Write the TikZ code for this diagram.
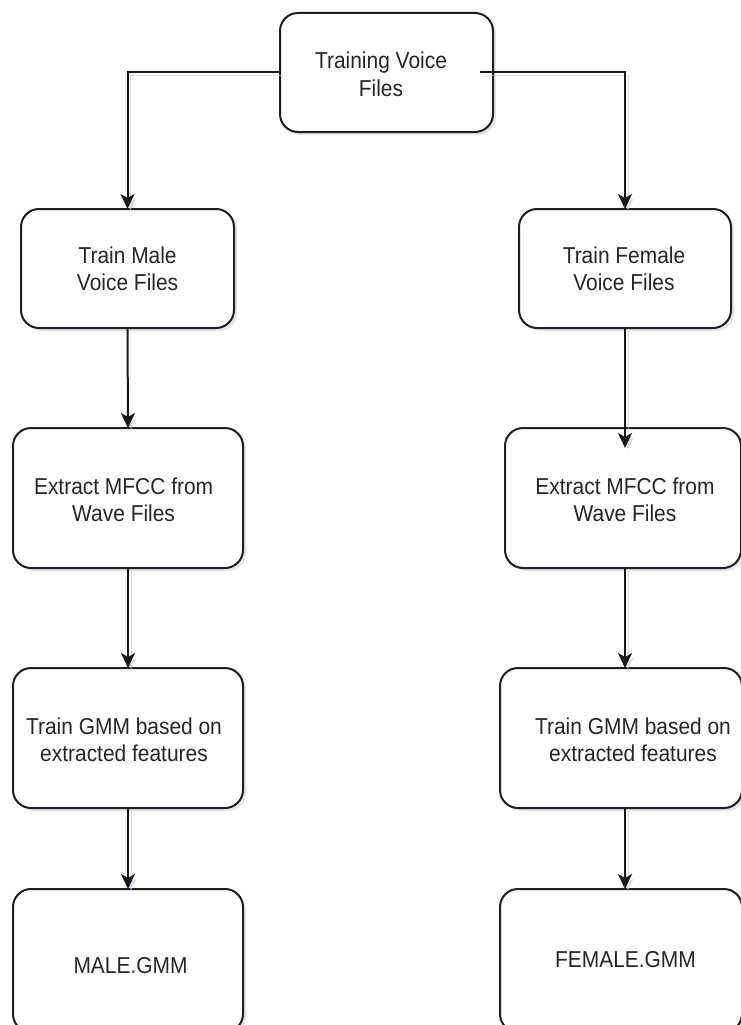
\documentclass[tikz,border=0pt]{standalone}
\usepackage{fontspec}
\setmainfont{Liberation Sans}[FakeStretch=0.91]
\usetikzlibrary{arrows.meta,shadows}
\definecolor{shadowcol}{RGB}{200,202,222}
\begin{document}
\begin{tikzpicture}[x=1pt,y=-1pt,
  box/.style={draw=black!88, line width=2pt, rounded corners=18pt, fill=white,
    inner sep=0pt, outer sep=0pt,
    drop shadow={shadow xshift=3pt, shadow yshift=-3pt, opacity=0.5, fill=shadowcol}},
  lbl/.style={font=\fontsize{23}{27.5}\selectfont, align=center, inner sep=0pt, text=black!85},
  arr/.style={line width=2pt, draw=black!90,
    -{Stealth[length=15pt,width=14pt,inset=4pt]},
    preaction={draw=shadowcol, opacity=0.6, transform canvas={shift={(3pt,-3pt)}}}}]
\useasboundingbox (0,0) rectangle (741,1025);
\clip (0,0) rectangle (741,1025);
% boxes
\node[box, minimum width=213pt, minimum height=119pt] (top) at (386.5,72.5) {};
\node[box, minimum width=213pt, minimum height=119pt] (L1) at (127.5,268.5) {};
\node[box, minimum width=212pt, minimum height=119pt] (R1) at (625,268.5) {};
\node[box, minimum width=230pt, minimum height=140pt] (L2) at (128,498) {};
\node[box, minimum width=236pt, minimum height=140pt] (R2) at (623,498) {};
\node[box, minimum width=230pt, minimum height=140pt] (L3) at (128,738) {};
\node[box, minimum width=242pt, minimum height=140pt] (R3) at (621,738) {};
\node[box, minimum width=230pt, minimum height=143pt] (L4) at (128,960.5) {};
\node[box, minimum width=242pt, minimum height=143pt] (R4) at (621,960.5) {};
% labels
\node[lbl] (tTop) at (381,74.5) {Training Voice\\Files};
\node[lbl] (tL1) at (127.6,269) {Train Male\\Voice Files};
\node[lbl] (tR1) at (624,269) {Train Female\\Voice Files};
\node[lbl] (tL2) at (123.6,500) {Extract MFCC from\\Wave Files};
\node[lbl] (tR2) at (625,500) {Extract MFCC from\\Wave Files};
\node[lbl] (tL3) at (124,740) {Train GMM based on\\extracted features};
\node[lbl] (tR3) at (633,740) {Train GMM based on\\extracted features};
\node[lbl] (tL4) at (130.5,966) {MALE.GMM};
\node[lbl] (tR4) at (625.5,960) {FEMALE.GMM};
% connectors
\coordinate (topR) at ([xshift=-13pt]top.east);
\coordinate (R2top) at (R2.north -| R1.south);
\coordinate (R2in) at ([yshift=-20pt]R2top);
\draw[arr] (top.west) -| (L1.north);
\draw[arr] (topR) -| (R1.north);
\draw[arr] (L1.south) -- (L2.north);
\draw[arr] (R1.south) -- (R2in);
\draw[arr] (L2.south) -- (L3.north);
\draw[arr] (R2.south -| R1.south) -- (R3.north -| R1.south);
\draw[arr] (L3.south) -- (L4.north);
\draw[arr] (R3.south -| R1.south) -- (R4.north -| R1.south);
\end{tikzpicture}
\end{document}
